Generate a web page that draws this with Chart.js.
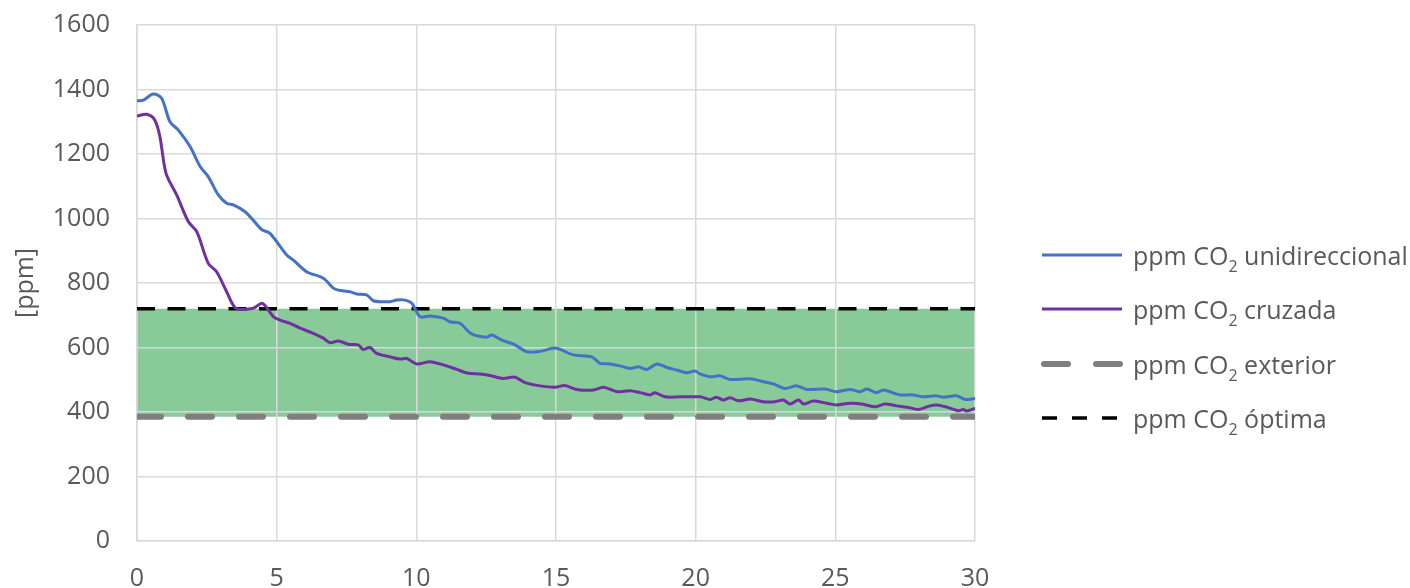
<!doctype html>
<html>
<head>
<meta charset="utf-8">
<title>ppm CO2</title>
<script src="https://cdn.jsdelivr.net/npm/chart.js@4.4.1/dist/chart.umd.min.js"></script>
<style>
    body { margin: 0; background: #fff; }
    #wrap { position: relative; width: 1410px; height: 588px; background: #fff; }
    #legend { position: absolute; left: 1040px; top: 228px; font-family: 'Open Sans', sans-serif; font-size: 25px; color: #595959; }
    #legend .item { height: 54.3px; display: flex; align-items: center; white-space: nowrap; }
    #legend svg { width: 84px; height: 12px; margin-right: 9px; flex: none; }
    #legend sub { font-size: 16px; position: relative; top: 7px; vertical-align: baseline; line-height: 0; }
</style>
</head>
<body>
<div id="wrap">
    <canvas id="myChart" width="1410" height="588"></canvas>
    <div id="legend">
        <div class="item"><svg><line x1="2" y1="6" x2="82" y2="6" stroke="#4472c4" stroke-width="3"/></svg><span>ppm CO<sub>2</sub> unidireccional</span></div>
        <div class="item"><svg><line x1="2" y1="6" x2="82" y2="6" stroke="#7030a0" stroke-width="3"/></svg><span>ppm CO<sub>2</sub> cruzada</span></div>
        <div class="item"><svg><line x1="4" y1="6" x2="82" y2="6" stroke="#7f7f7f" stroke-width="6" stroke-linecap="round" stroke-dasharray="24 28"/></svg><span>ppm CO<sub>2</sub> exterior</span></div>
        <div class="item"><svg><line x1="2" y1="6" x2="82" y2="6" stroke="#000" stroke-width="3.5" stroke-dasharray="15 15"/></svg><span>ppm CO<sub>2</sub> óptima</span></div>
    </div>
</div>

<script>
    // tiempo [min] y concentración [ppm]
    var uniX = [0, 0.23, 0.58, 0.88, 1.18, 1.48, 1.9, 2.26, 2.55, 2.91, 3.21, 3.45, 3.87, 4.16, 4.46, 4.76, 5.36, 5.6, 6.07, 6.67, 7.03, 7.21, 7.63, 7.87, 8.22, 8.46, 8.82, 9.06, 9.3, 9.6, 9.84, 10.07, 10.19, 10.49, 10.97, 11.2, 11.56, 11.98, 12.52, 12.7, 13.11, 13.47, 13.95, 14.43, 15.0, 15.62, 16.28, 16.58, 16.94, 17.29, 17.65, 17.95, 18.25, 18.61, 18.97, 19.32, 19.68, 19.98, 20.16, 20.52, 20.87, 21.23, 21.95, 22.42, 22.78, 23.2, 23.62, 23.98, 24.63, 25.05, 25.53, 25.89, 26.13, 26.48, 26.72, 27.32, 27.79, 28.15, 28.63, 28.87, 29.35, 29.64, 30];
    var uniY = [1365, 1367, 1386, 1373, 1300, 1274, 1223, 1161, 1130, 1073, 1047, 1042, 1021, 995, 966, 954, 887, 871, 835, 815, 784, 778, 773, 766, 763, 745, 742, 742, 747, 747, 737, 701, 694, 698, 691, 680, 675, 642, 632, 639, 621, 611, 587, 588, 598, 577, 571, 551, 549, 543, 535, 540, 532, 549, 538, 530, 522, 527, 518, 509, 512, 501, 503, 494, 487, 473, 481, 470, 471, 463, 470, 463, 471, 460, 468, 453, 453, 447, 450, 446, 450, 439, 442];

    var cruX = [0, 0.35, 0.64, 0.82, 1.04, 1.42, 1.84, 2.14, 2.55, 2.85, 3.21, 3.54, 4.16, 4.49, 4.88, 5.12, 5.48, 5.84, 6.31, 6.67, 6.91, 7.21, 7.57, 7.92, 8.1, 8.34, 8.58, 9.06, 9.42, 9.66, 10.01, 10.49, 10.97, 11.45, 11.86, 12.28, 12.64, 13.11, 13.53, 13.89, 14.43, 14.97, 15.32, 15.74, 16.34, 16.7, 17.18, 17.65, 18.01, 18.37, 18.55, 18.9, 19.44, 20.16, 20.52, 20.75, 20.99, 21.23, 21.53, 21.95, 22.42, 22.84, 23.14, 23.38, 23.68, 23.86, 24.21, 24.69, 25.05, 25.53, 26.0, 26.42, 26.78, 27.2, 27.56, 27.98, 28.39, 28.63, 28.99, 29.4, 29.58, 29.7, 30];
    var cruY = [1318, 1323, 1305, 1254, 1140, 1073, 990, 959, 861, 835, 773, 722, 722, 737, 696, 685, 675, 660, 644, 629, 615, 620, 610, 608, 594, 600, 582, 571, 564, 566, 549, 556, 546, 532, 520, 518, 513, 504, 508, 491, 481, 477, 482, 470, 468, 477, 463, 466, 460, 453, 460, 447, 447, 447, 439, 446, 437, 444, 435, 440, 432, 432, 437, 425, 437, 425, 434, 427, 422, 427, 424, 416, 425, 419, 415, 408, 419, 422, 415, 404, 408, 403, 411];

    var limX = [0, 30];
    var extY = [385, 385];
    var optY = [720, 720];

    var labels = ['ppm CO₂ unidireccional', 'ppm CO₂ cruzada', 'ppm CO₂ exterior', 'ppm CO₂ óptima'];

    function pts(xs, ys) {
        return xs.map(function (x, i) { return {x: x, y: ys[i]}; });
    }

    Chart.defaults.font.family = "'Open Sans', sans-serif";
    Chart.defaults.color = '#595959';

    var ctx = document.getElementById('myChart').getContext('2d');
    var myChart = new Chart(ctx, {
        type: 'line',
        data: {
            datasets: [{
                label: labels[0],
                data: pts(uniX, uniY),
                borderColor: '#4472c4',
                borderWidth: 3,
                pointRadius: 0,
                tension: 0.3,
                fill: false
            }, {
                label: labels[1],
                data: pts(cruX, cruY),
                borderColor: '#7030a0',
                borderWidth: 3,
                pointRadius: 0,
                tension: 0.3,
                fill: false
            }, {
                label: labels[2],
                data: pts(limX, extY),
                borderColor: '#7f7f7f',
                borderWidth: 6,
                borderDash: [24, 27],
                borderCapStyle: 'round',
                pointRadius: 0,
                fill: false
            }, {
                label: labels[3],
                data: pts(limX, optY),
                borderColor: '#000000',
                borderWidth: 3.5,
                borderDash: [18, 12.5],
                pointRadius: 0,
                fill: '-1',
                backgroundColor: '#88cb99'
            }]
        },
        options: {
            responsive: false,
            animation: false,
            devicePixelRatio: 1,
            layout: {padding: {left: 0, right: 435, top: 25, bottom: 0}},
            plugins: {
                legend: {display: false},
                tooltip: {enabled: false},
                filler: {drawTime: 'beforeDraw'}
            },
            scales: {
                x: {
                    type: 'linear',
                    min: 0,
                    max: 30,
                    ticks: {stepSize: 5, padding: 23, font: {size: 25}, color: '#595959',
                        callback: function (v) { return String(v); }},
                    grid: {color: '#d9d9d9', lineWidth: 1.5, drawTicks: false},
                    border: {color: '#d9d9d9', width: 1.5},
                    afterFit: function (s) { s.height = 47; s.paddingLeft = 0; s.paddingRight = 0; }
                },
                y: {
                    min: 0,
                    max: 1600,
                    ticks: {stepSize: 200, padding: 27, font: {size: 25}, color: '#595959',
                        callback: function (v) { return String(v); }},
                    grid: {color: '#d9d9d9', lineWidth: 1.5, drawTicks: false},
                    border: {color: '#d9d9d9', width: 1.5},
                    title: {display: true, text: '[ppm]', font: {size: 25}, color: '#595959', padding: {top: 11, bottom: 0}},
                    afterFit: function (s) { s.width = 137; s.paddingTop = 0; s.paddingBottom = 0; }
                }
            }
        }
    });
</script>
</body>
</html>
